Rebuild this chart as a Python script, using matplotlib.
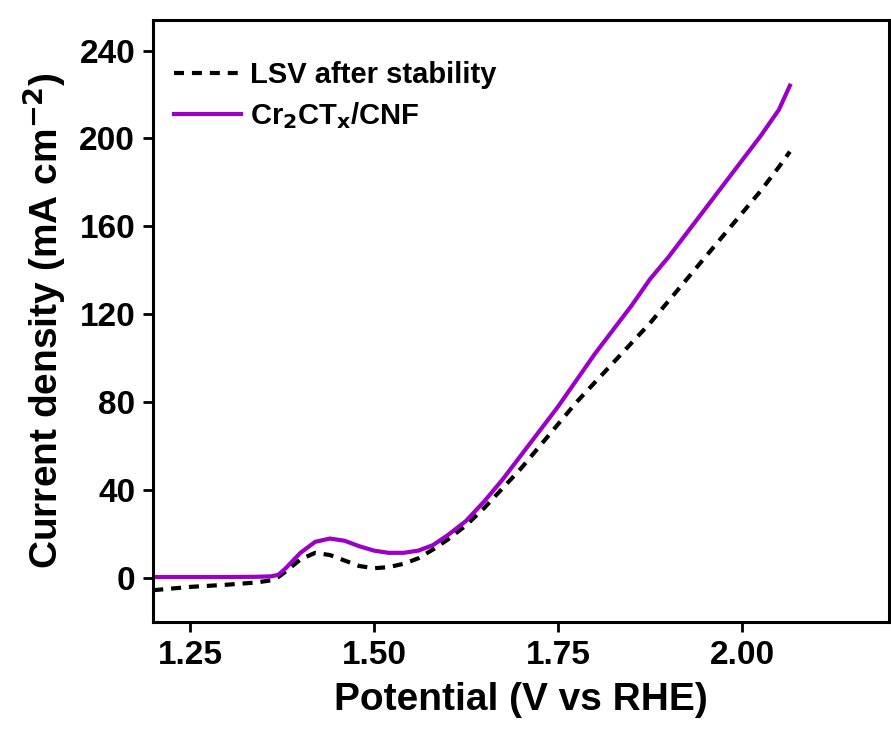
import matplotlib.pyplot as plt

plt.rcParams['font.family'] = ['Liberation Sans', 'DejaVu Sans']
plt.rcParams['font.weight'] = 'bold'
plt.rcParams['mathtext.default'] = 'regular'

# potential (V vs RHE)
potential = [1.20, 1.25, 1.30, 1.34, 1.36, 1.37, 1.38, 1.40, 1.42, 1.44, 1.46, 1.48, 1.50,
             1.52, 1.54, 1.56, 1.58, 1.60, 1.625, 1.65, 1.675, 1.70, 1.725, 1.75,
             1.775, 1.80, 1.825, 1.85, 1.875, 1.90, 1.925, 1.95, 1.975, 2.00,
             2.025, 2.05, 2.065]

# Cr2CTx/CNF (mA cm-2)
cnf = [0.5, 0.5, 0.5, 0.6, 0.8, 1.5, 4.5, 11.5, 16.5, 18.0, 17.0, 14.5, 12.5,
       11.5, 11.5, 12.5, 15.0, 19.5, 26.0, 35.0, 45.0, 56.0, 67.0, 78.0,
       90.0, 102.0, 113.0, 124.0, 136.0, 146.0, 157.0, 168.0, 179.0, 190.0,
       201.0, 213.0, 224.0]

# LSV after stability (mA cm-2)
after = [-5.5, -4.0, -3.0, -2.0, -1.0, 0.5, 3.0, 8.5, 11.5, 10.5, 8.0, 5.5, 4.5,
         5.0, 6.5, 9.0, 13.0, 17.5, 24.0, 32.0, 41.0, 50.0, 60.0, 70.0,
         80.0, 89.0, 98.0, 107.0, 116.0, 126.0, 136.0, 146.0, 156.0, 166.0,
         176.0, 187.0, 194.0]

fig = plt.figure(figsize=(8.91, 7.31), dpi=100)
ax = fig.add_axes([0.172, 0.149, 0.826, 0.824])

ax.plot(potential, after, color='black', linestyle=(0, (2.4, 1.9)), linewidth=3.0,
        label='LSV after stability')
ax.plot(potential, cnf, color='#9a00c8', linewidth=3.0,
        label='Cr$_{\\mathbf{2}}$CT$_{\\mathbf{x}}$/CNF')

ax.set_xlim(1.2, 2.2)
ax.set_ylim(-20, 254)
ax.set_xticks([1.25, 1.50, 1.75, 2.00])
ax.set_xticklabels(['1.25', '1.50', '1.75', '2.00'])
ax.set_yticks([0, 40, 80, 120, 160, 200, 240])

ax.tick_params(direction='out', length=7, width=2, labelsize=24, pad=6)
for lab in ax.get_xticklabels() + ax.get_yticklabels():
    lab.set_fontweight('bold')
for sp in ax.spines.values():
    sp.set_linewidth(2.2)

ax.set_xlabel('Potential (V vs RHE)', fontsize=28, fontweight='bold', labelpad=8)
ax.set_ylabel('Current density (mA cm$^{\\mathbf{-2}}$)', fontsize=28,
              fontweight='bold', labelpad=8)

leg = ax.legend(loc='upper left', bbox_to_anchor=(0.0, 0.965), frameon=False,
                fontsize=21, handlelength=2.3, borderaxespad=0.3,
                labelspacing=0.37, handletextpad=0.3)
for t in leg.get_texts():
    t.set_fontweight('bold')

fig.savefig('out.png', dpi=100)
